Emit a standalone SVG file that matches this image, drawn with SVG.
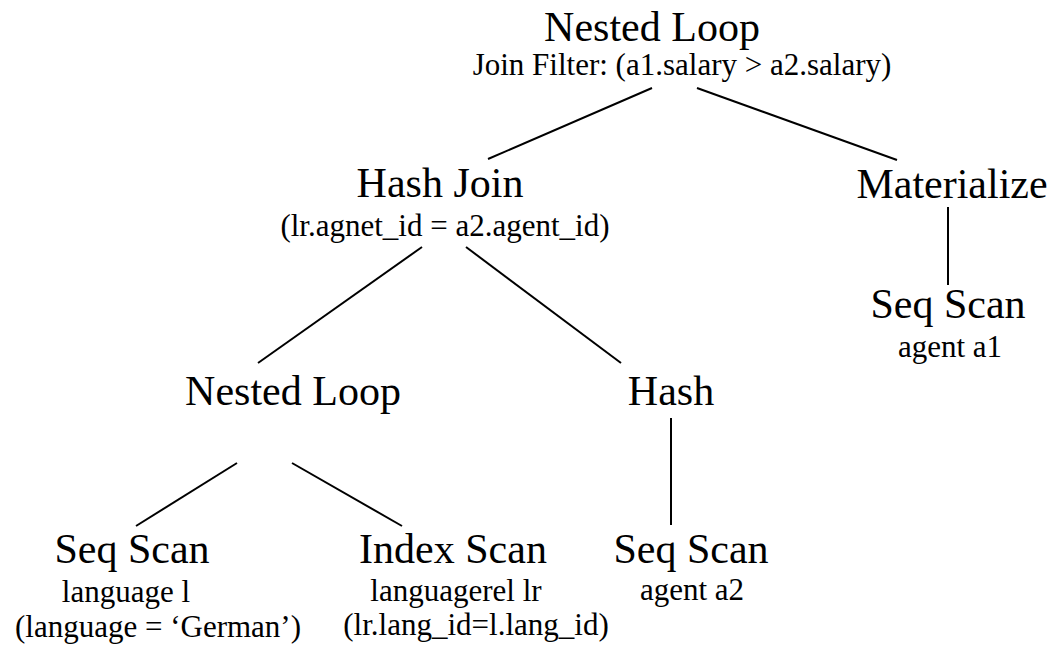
<svg xmlns="http://www.w3.org/2000/svg" width="1053" height="650" viewBox="0 0 1053 650">
  <style>
    text { font-family: "Liberation Serif", "Times New Roman", serif; fill: #000; text-anchor: middle; }
    .op { font-size: 42px; }
    .info { font-size: 31px; }
    .edge { stroke: #000; stroke-width: 2; fill: none; }
  </style>
  <rect width="1053" height="650" fill="#fff"/>

  <!-- plan tree edges -->
  <g id="connectors">
    <line class="edge" x1="652" y1="88" x2="488" y2="159"/>
    <line class="edge" x1="697" y1="88" x2="897" y2="160"/>
    <line class="edge" x1="422" y1="247" x2="258" y2="363"/>
    <line class="edge" x1="466" y1="247" x2="621" y2="363"/>
    <line class="edge" x1="948" y1="207" x2="948" y2="285"/>
    <line class="edge" x1="237" y1="463" x2="136" y2="526"/>
    <line class="edge" x1="292" y1="463" x2="402" y2="526"/>
    <line class="edge" x1="671" y1="418" x2="671" y2="525"/>
  </g>

  <g id="nested-loop-top">
    <text class="op" x="652" y="41">Nested Loop</text>
    <text class="info" x="682" y="75">Join Filter: (a1.salary &gt; a2.salary)</text>
  </g>

  <g id="hash-join">
    <text class="op" x="440" y="197">Hash Join</text>
    <text class="info" x="445" y="236">(lr.agnet_id = a2.agent_id)</text>
  </g>

  <g id="materialize">
    <text class="op" x="952" y="198">Materialize</text>
  </g>

  <g id="seq-scan-a1">
    <text class="op" x="948" y="318">Seq Scan</text>
    <text class="info" x="950" y="357">agent a1</text>
  </g>

  <g id="nested-loop-inner">
    <text class="op" x="293" y="405">Nested Loop</text>
  </g>

  <g id="hash">
    <text class="op" x="671" y="405">Hash</text>
  </g>

  <g id="seq-scan-language">
    <text class="op" x="132" y="563">Seq Scan</text>
    <text class="info" x="126" y="602">language l</text>
    <text class="info" x="158" y="637">(language = ‘German’)</text>
  </g>

  <g id="index-scan-languagerel">
    <text class="op" x="453" y="563">Index Scan</text>
    <text class="info" x="456" y="601">languagerel lr</text>
    <text class="info" x="476" y="635">(lr.lang_id=l.lang_id)</text>
  </g>

  <g id="seq-scan-a2">
    <text class="op" x="691" y="563">Seq Scan</text>
    <text class="info" x="692" y="600">agent a2</text>
  </g>
</svg>
